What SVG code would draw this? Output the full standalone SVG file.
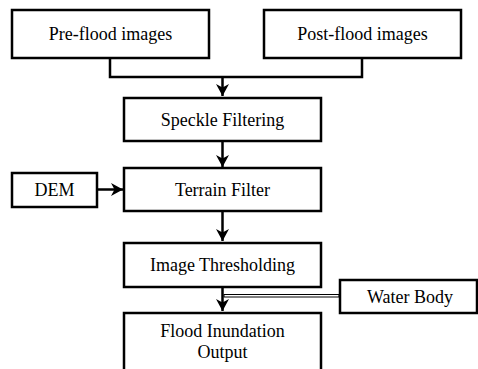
<svg xmlns="http://www.w3.org/2000/svg" width="478" height="369" viewBox="0 0 478 369">
<style>
.box{fill:#fff;stroke:#000;stroke-width:2.5}
.t{font-family:'Liberation Serif','DejaVu Serif',serif;font-size:18px;fill:#000;text-anchor:middle}
.c{fill:none;stroke:#000;stroke-width:2.5}
</style>
<defs>
<marker id="ah" markerWidth="14" markerHeight="14" refX="12" refY="6.5" orient="auto" markerUnits="userSpaceOnUse">
<path d="M0,0 L12,6.5 L0,13 L3.5,6.5 Z" fill="#000"/>
</marker>
</defs>
<rect width="478" height="369" fill="#fff"/>
<g id="connectors">
<path class="c" d="M110,58 V77 H362 V58"/>
<path class="c" d="M222.5,77 V96" marker-end="url(#ah)"/>
<path class="c" d="M222.5,141 V167" marker-end="url(#ah)"/>
<path class="c" d="M97,189.5 H123" marker-end="url(#ah)"/>
<path class="c" d="M222.5,211 V241" marker-end="url(#ah)"/>
<path class="c" d="M222.5,287 V311" marker-end="url(#ah)"/>
<rect x="224" y="294.5" width="115" height="2.5" fill="#fff" stroke="#000" stroke-width="1"/>
</g>
<g id="pre"><rect class="box" x="12" y="10" width="197" height="48"/><text class="t" x="110.5" y="40">Pre-flood images</text></g>
<g id="post"><rect class="box" x="264" y="10" width="197" height="48"/><text class="t" x="362.5" y="40">Post-flood images</text></g>
<g id="speckle"><rect class="box" x="124" y="98" width="197" height="43"/><text class="t" x="222.5" y="125.5">Speckle Filtering</text></g>
<g id="dem"><rect class="box" x="12" y="173" width="85" height="34"/><text class="t" x="54.5" y="196">DEM</text></g>
<g id="terrain"><rect class="box" x="124" y="168" width="197" height="43"/><text class="t" x="222.5" y="196">Terrain Filter</text></g>
<g id="threshold"><rect class="box" x="124" y="243" width="197" height="44"/><text class="t" x="222.5" y="271">Image Thresholding</text></g>
<g id="water"><rect class="box" x="340" y="280" width="137" height="33"/><text class="t" x="410" y="303">Water Body</text></g>
<g id="flood"><rect class="box" x="124" y="313" width="197" height="70"/><text class="t" x="222.5" y="337">Flood Inundation</text><text class="t" x="222.5" y="358">Output</text></g>
</svg>
